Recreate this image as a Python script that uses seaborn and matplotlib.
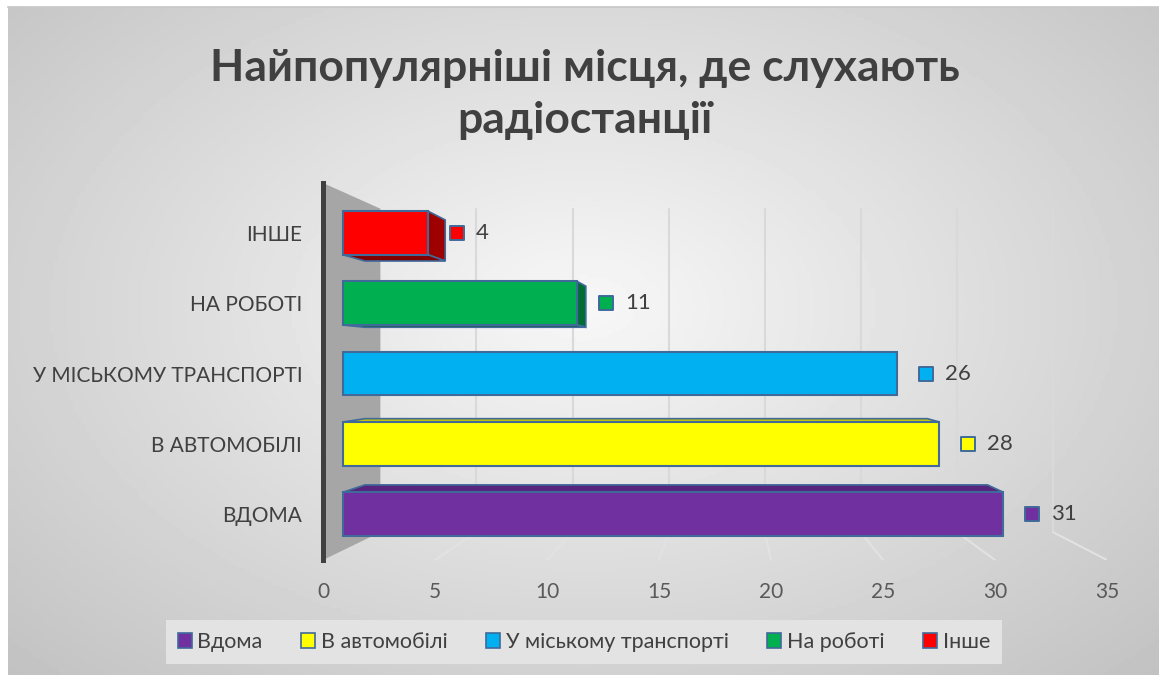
import numpy as np
import pandas as pd
import matplotlib.pyplot as plt
import seaborn as sns
from matplotlib.patches import Polygon, Patch
from matplotlib.transforms import offset_copy

sns.set_theme(style='white')
plt.rcParams['font.family'] = ['Lato', 'DejaVu Sans']

# Data
categories = ['ВДОМА', 'В АВТОМОБІЛІ', 'У МІСЬКОМУ ТРАНСПОРТІ', 'НА РОБОТІ', 'ІНШЕ']
legend_labels = ['Вдома', 'В автомобілі', 'У міському транспорті', 'На роботі', 'Інше']
values = [31, 28, 26, 11, 4]
colors = ['#7030A0', '#FFFF00', '#00B0F0', '#00B050', '#FF0000']
xticks = [0, 5, 10, 15, 20, 25, 30, 35]
title = 'Найпопулярніші місця, де слухають\nрадіостанції'

edge = '#3F6A9A'
text_col = '#404040'

fig = plt.figure(figsize=(11.59, 6.75), dpi=100)

# background with radial gradient
bg = fig.add_axes([8 / 1159, 0, 1 - 8 / 1159, 1 - 7 / 675], zorder=-10)
gx, gy = np.meshgrid(np.linspace(0, 1, 300), np.linspace(0, 1, 200))
r = np.sqrt(((gx - 0.5) / 0.5) ** 2 + ((gy - 0.45) / 0.55) ** 2) / np.sqrt(2)
shade = np.clip(0.97 - 0.21 * r, 0, 1)
bg.imshow(shade, cmap='gray', vmin=0, vmax=1, aspect='auto', extent=[0, 1, 0, 1])
bg.set_xticks([])
bg.set_yticks([])
for s in bg.spines.values():
    s.set_visible(False)
bg.spines['top'].set_visible(True)
bg.spines['top'].set_color('#c8c8c8')

# back plane: wall, grid, floor, x ticks
rect = [323 / 1159, 1 - 560 / 675, 784 / 1159, 377 / 675]
ax = fig.add_axes(rect)
ax.set_facecolor('none')
ax.set_xlim(0, 35)
ax.set_ylim(0, 1)
vp_back = np.array([18.04, 0.52])
k_wall = 0.142


def to_back(p):
    p = np.asarray(p, dtype=float)
    return p + k_wall * (vp_back - p)


wall = Polygon([(0, 1), to_back((0, 1)), to_back((0, 0)), (0, 0)],
               closed=True, facecolor='#a6a6a6', edgecolor='none', zorder=1)
ax.add_patch(wall)
for t in xticks[1:]:
    top_pt, bot_pt = to_back((t, 1)), to_back((t, 0))
    ax.plot([bot_pt[0], top_pt[0]], [bot_pt[1], top_pt[1]], color='#d9d9d9', lw=1.5, zorder=0.5)
    ax.plot([t, bot_pt[0]], [0, bot_pt[1]], color='#e2e2e2', lw=1.5, zorder=0.5)

for s in ['top', 'right', 'bottom']:
    ax.spines[s].set_visible(False)
ax.spines['left'].set_color(text_col)
ax.spines['left'].set_linewidth(3.6)
ax.spines['left'].set_zorder(3)
ax.set_xticks(xticks)
ax.set_yticks([])
ax.tick_params(axis='x', length=0, pad=16, labelsize=15, labelcolor='#595959')

# bar plane
ax2 = fig.add_axes(rect)
ax2.set_facecolor('none')
df = pd.DataFrame({'category': categories, 'value': values})
order = categories[::-1]
sns.barplot(data=df, x='value', y='category', hue='category', order=order,
            hue_order=categories, palette=dict(zip(categories, colors)),
            width=0.62, saturation=1, edgecolor=edge, linewidth=1.5,
            legend=False, ax=ax2)
ax2.set_xlim(-0.939, 35.87)
ax2.set_ylim(4.655, -0.712)
for s in ax2.spines.values():
    s.set_visible(False)
ax2.set_xticks([])
ax2.set_xlabel('')
ax2.set_ylabel('')
ax2.tick_params(axis='y', length=0, pad=15, labelsize=15, labelcolor=text_col)

vp = np.array([18.03, 1.865])
k_bar = 0.057


def to_depth(p):
    p = np.asarray(p, dtype=float)
    return p + k_bar * (vp - p)


mark_tr = offset_copy(ax2.transData, fig=fig, x=29, y=0, units='dots')
for patch in list(ax2.patches):
    x0, y0 = patch.get_x(), patch.get_y()
    w, h = patch.get_width(), patch.get_height()
    fc = np.array(patch.get_facecolor()[:3])
    patch.set_zorder(3)
    tl, tr, br, bl = (x0, y0), (x0 + w, y0), (x0 + w, y0 + h), (x0, y0 + h)
    faces = []
    if x0 + w < vp[0]:
        faces.append(([tr, to_depth(tr), to_depth(br), br], 0.62))
    if y0 > vp[1]:
        faces.append(([tl, tr, to_depth(tr), to_depth(tl)], 0.78))
    if y0 + h < vp[1]:
        faces.append(([bl, br, to_depth(br), to_depth(bl)], 0.5))
    for pts, f in faces:
        ax2.add_patch(Polygon(pts, closed=True, facecolor=fc * f, edgecolor=edge,
                              lw=1.2, zorder=2))
    # data labels
    yc = y0 + h / 2
    ax2.scatter([x0 + w], [yc], marker='s', s=115, color=fc, edgecolor=edge,
                linewidth=1.4, transform=mark_tr, zorder=4)
    ax2.annotate(f'{x0 + w:.0f}', xy=(x0 + w, yc), xytext=(48, 0),
                 textcoords='offset pixels', ha='left', va='center',
                 fontsize=16, color=text_col)

# title
fig.text(585 / 1159, 1 - 94 / 675, title, ha='center', va='center',
         fontsize=32, weight='bold', color=text_col, linespacing=1.35)

# legend
handles = [Patch(facecolor=c, edgecolor=edge, lw=1.2) for c in colors]
leg = fig.legend(handles, legend_labels, loc='center',
                 bbox_to_anchor=(584 / 1159, 1 - 642 / 675), ncol=5,
                 frameon=True, facecolor='#e3e3e3', edgecolor='none',
                 fancybox=False, handlelength=0.65, handleheight=0.65,
                 handletextpad=0.25, columnspacing=1.8, fontsize=15.5,
                 borderpad=0.55)
leg.get_frame().set_alpha(1)
for t in leg.get_texts():
    t.set_color(text_col)

fig.savefig('out.png', dpi=100)
